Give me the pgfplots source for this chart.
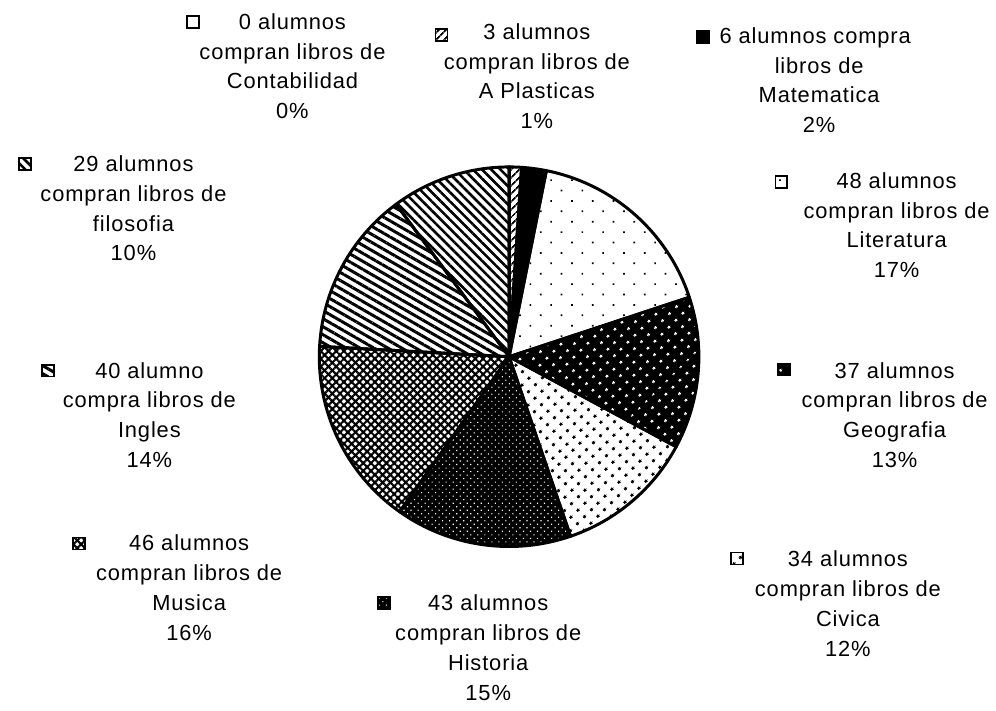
\documentclass[border=0pt]{standalone}
\usepackage{fontspec}
\setmainfont{Liberation Sans}[LetterSpace=4]
\usepackage{pgfplots}
\usepackage{pgfplotstable}
\pgfplotsset{compat=1.18}
\usetikzlibrary{patterns.meta}

% one style per slice, clockwise from the top
\tikzset{
  slice0/.style={fill=white},
  slice1/.style={pattern={Lines[angle=45,distance=6bp,line width=2.2bp]}},
  slice2/.style={fill=black},
  slice3/.style={pattern={Dots[angle=45,distance=14.8bp,radius=1.2bp]}},
  slice4/.style={preaction={fill=black},pattern={Dots[angle=45,distance=9.5bp,radius=1.5bp]},pattern color=white},
  slice5/.style={pattern={Dots[angle=45,distance=9.5bp,radius=1.7bp]}},
  slice6/.style={preaction={fill=black},pattern={Dots[angle=45,distance=5bp,radius=0.8bp]},pattern color=white},
  slice7/.style={pattern={Hatch[angle=45,distance=5.5bp,line width=2.1bp]}},
  slice8/.style={pattern={Lines[angle=-30,distance=7bp,line width=3bp]}},
  slice9/.style={pattern={Lines[angle=-45,distance=6.5bp,line width=2.6bp]}},
  lbl/.style={font=\fontsize{22bp}{30bp}\selectfont, anchor=base, inner sep=0pt},
  key/.style={draw=black, line width=1.8bp, minimum size=12bp, inner sep=0pt},
}

% alumnos que compran libros, por materia
\pgfplotstableread{
idx count
0 0
1 3
2 6
3 48
4 37
5 34
6 43
7 46
8 40
9 29
}\piedata

% label block: cx, y of first line, four lines
\newcommand\lab[6]{%
  \node[lbl,yshift=-7.5bp] at (axis cs:#1,-#2) {#3};
  \node[lbl,yshift=-37.5bp] at (axis cs:#1,-#2) {#4};
  \node[lbl,yshift=-67.5bp] at (axis cs:#1,-#2) {#5};
  \node[lbl,yshift=-97.5bp] at (axis cs:#1,-#2) {#6};
}
\newcommand\keybox[3]{\node[key,slice#1] at (axis cs:#2,-#3) {};}

\begin{document}
\def\total{0}
\pgfplotsforeachungrouped \i in {0,...,9}{%
  \pgfplotstablegetelem{\i}{count}\of\piedata
  \pgfmathsetmacro\total{\total+\pgfplotsretval}%
}
\begin{tikzpicture}
\begin{axis}[
  width=996bp, height=715bp, scale only axis,
  xmin=0, xmax=996, ymin=-715, ymax=0,
  hide axis, clip=false
]
\path (axis cs:0,0) (axis cs:996,-715);
\def\startang{90}
\pgfplotsforeachungrouped \i in {0,...,9}{%
  \pgfplotstablegetelem{\i}{count}\of\piedata
  \pgfmathsetmacro\endang{\startang-\pgfplotsretval/\total*360}%
  \edef\wedge{\noexpand\draw[slice\i, line width=3bp, line join=round]
    (axis cs:506,-359) -- ++(\startang:191bp)
    arc[start angle=\startang, end angle=\endang, radius=191bp] -- cycle;}%
  \wedge
  \global\let\startang\endang
}

\keybox{0}{188}{22}
\lab{288}{22}{0 alumnos}{compran libros de}{Contabilidad}{0\%}
\keybox{1}{438}{35}
\lab{534}{32}{3 alumnos}{compran libros de}{A Plasticas}{1\%}
\keybox{2}{701}{37}
\node[lbl,yshift=-7.5bp] at (axis cs:814,-36) {6 alumnos compra};
\node[lbl,yshift=-37.5bp] at (axis cs:818,-36) {libros de};
\node[lbl,yshift=-67.5bp] at (axis cs:818,-36) {Matematica};
\node[lbl,yshift=-97.5bp] at (axis cs:818,-36) {2\%};
\keybox{3}{780}{183}
\lab{896}{182}{48 alumnos}{compran libros de}{Literatura}{17\%}
\keybox{4}{783}{372}
\lab{894}{373}{37 alumnos}{compran libros de}{Geografia}{13\%}
\keybox{5}{735}{562}
\lab{847}{563}{34 alumnos}{compran libros de}{Civica}{12\%}
\keybox{6}{380}{607}
\lab{485}{607}{43 alumnos}{compran libros de}{Historia}{15\%}
\keybox{7}{73}{547}
\lab{184}{547}{46 alumnos}{compran libros de}{Musica}{16\%}
\keybox{8}{42}{373}
\lab{144}{373}{40 alumno}{compra libros de}{Ingles}{14\%}
\keybox{9}{19}{165}
\lab{128}{165}{29 alumnos}{compran libros de}{filosofia}{10\%}
\end{axis}
\end{tikzpicture}
\end{document}
